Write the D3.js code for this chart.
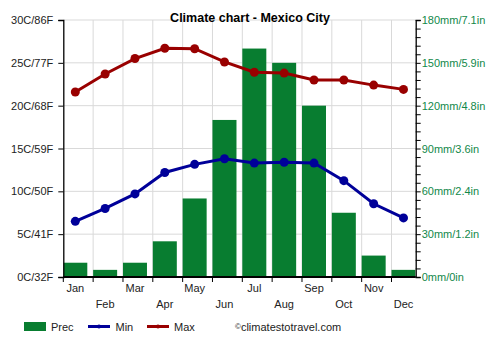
<!DOCTYPE html>
<html><head><meta charset="utf-8">
<script src="https://cdn.jsdelivr.net/npm/d3@7"></script>
<style>body{margin:0;background:#fff;} svg{display:block;font-family:Arial,"Liberation Sans",sans-serif;}</style>
</head><body>
<svg id="c" width="500" height="350"></svg>
<script>
const months = ["Jan","Feb","Mar","Apr","May","Jun","Jul","Aug","Sep","Oct","Nov","Dec"];
const prec = [10,5,10,25,55,110,160,150,120,45,15,5];
const tmin = [6.5,8.0,9.7,12.2,13.15,13.8,13.3,13.4,13.3,11.25,8.55,6.9];
const tmax = [21.6,23.7,25.5,26.7,26.65,25.1,23.9,23.8,23.0,23.0,22.4,21.9];
const leftTicks = ["0C/32F","5C/41F","10C/50F","15C/59F","20C/68F","25C/77F","30C/86F"];
const rightTicks = ["0mm/0in","30mm/1.2in","60mm/2.4in","90mm/3.6in","120mm/4.8in","150mm/5.9in","180mm/7.1in"];

const svg = d3.select("#c");
const L = 63.3, R = 415.7, T = 20, B = 277;
const bandW = (391.5 - L) / 11;
const x = d3.scaleBand().domain(months).range([L, L + bandW * 12]).padding(0);
const yT = d3.scaleLinear().domain([0, 30]).range([B, T]);
const yP = d3.scaleLinear().domain([0, 180]).range([B, T]);
const cx = m => x(m) + 12;

// grid
const g = svg.append("g");
g.selectAll(".hg").data(d3.range(0, 31, 5)).join("line")
  .attr("x1", L).attr("x2", R).attr("y1", d => yT(d)).attr("y2", d => yT(d))
  .attr("stroke", "#d9d9d9").attr("stroke-width", 1);
g.selectAll(".vg").data(months.slice(1)).join("line")
  .attr("x1", d => x(d)).attr("x2", d => x(d)).attr("y1", T).attr("y2", B)
  .attr("stroke", "#d9d9d9").attr("stroke-width", 1);

// bars
svg.append("defs").append("clipPath").attr("id", "clip").append("rect")
  .attr("x", L).attr("y", 0).attr("width", R - L).attr("height", B);
svg.append("g").attr("clip-path", "url(#clip)").selectAll("rect").data(months).join("rect")
  .attr("x", d => x(d)).attr("width", 24)
  .attr("y", (d, i) => yP(prec[i])).attr("height", (d, i) => B - yP(prec[i]))
  .attr("fill", "#087d30");

// axes
const la = d3.axisLeft(yT).tickValues(d3.range(0, 31, 5)).tickSize(5).tickPadding(5).tickFormat((d, i) => leftTicks[i]);
const lg = svg.append("g").attr("transform", `translate(${L},0)`).call(la);
lg.select(".domain").attr("stroke", "#000").attr("stroke-width", 1.3);
lg.selectAll("text").attr("font-size", 11).attr("fill", "#222").attr("font-family", "Arial,Liberation Sans,sans-serif");

const ra = d3.axisRight(yP).tickValues(d3.range(0, 181, 6)).tickSize(5)
  .tickFormat(d => d % 30 === 0 ? rightTicks[d / 30] : "");
const rg = svg.append("g").attr("transform", `translate(${R},0)`).call(ra);
rg.select(".domain").attr("stroke", "#000").attr("stroke-width", 1.3);
rg.selectAll("text").attr("font-size", 11).attr("fill", "#12884a").attr("x", 6).attr("font-family", "Arial,Liberation Sans,sans-serif");

// bottom axis
svg.append("line").attr("x1", L).attr("x2", R).attr("y1", B).attr("y2", B).attr("stroke", "#000").attr("stroke-width", 2);
svg.selectAll(".xt").data(months).join("line")
  .attr("x1", d => x(d)).attr("x2", d => x(d)).attr("y1", B).attr("y2", B + 5)
  .attr("stroke", "#000").attr("stroke-width", 1);
svg.selectAll(".xl").data(months).join("text")
  .attr("x", d => cx(d)).attr("y", (d, i) => i % 2 === 0 ? 292 : 308)
  .attr("text-anchor", "middle").attr("font-size", 11).attr("fill", "#222").text(d => d);

// lines
const line = arr => d3.line().x((d, i) => cx(months[i])).y(d => yT(d))(arr);
[[tmin, "#000099"], [tmax, "#990000"]].forEach(([arr, col]) => {
  svg.append("path").attr("d", line(arr)).attr("fill", "none").attr("stroke", col).attr("stroke-width", 3);
  svg.append("g").selectAll("circle").data(arr).join("circle")
    .attr("cx", (d, i) => cx(months[i])).attr("cy", d => yT(d)).attr("r", 4.5).attr("fill", col);
});

// title
svg.append("text").attr("x", 250).attr("y", 22).attr("text-anchor", "middle")
  .attr("font-size", 12.5).attr("font-weight", "bold").attr("fill", "#000").text("Climate chart - Mexico City");

// legend
const lgd = svg.append("g");
lgd.append("rect").attr("x", 24).attr("y", 322).attr("width", 22).attr("height", 9).attr("fill", "#087d30");
lgd.append("text").attr("x", 51).attr("y", 331).attr("font-size", 11).attr("fill", "#222").text("Prec");
lgd.append("line").attr("x1", 88).attr("x2", 110).attr("y1", 326.5).attr("y2", 326.5).attr("stroke", "#000099").attr("stroke-width", 3);
lgd.append("circle").attr("cx", 99).attr("cy", 326.5).attr("r", 2).attr("fill", "#000099");
lgd.append("text").attr("x", 115.5).attr("y", 331).attr("font-size", 11).attr("fill", "#222").text("Min");
lgd.append("line").attr("x1", 147).attr("x2", 169).attr("y1", 326.5).attr("y2", 326.5).attr("stroke", "#990000").attr("stroke-width", 3);
lgd.append("circle").attr("cx", 158).attr("cy", 326.5).attr("r", 2).attr("fill", "#990000");
lgd.append("text").attr("x", 174).attr("y", 331).attr("font-size", 11).attr("fill", "#222").text("Max");
const cp = lgd.append("text").attr("x", 235).attr("y", 331).attr("font-size", 11).attr("fill", "#222");
cp.append("tspan").attr("font-size", 8).attr("dy", -2).text("©");
cp.append("tspan").attr("dy", 2).text("climatestotravel.com");
</script>
</body></html>
